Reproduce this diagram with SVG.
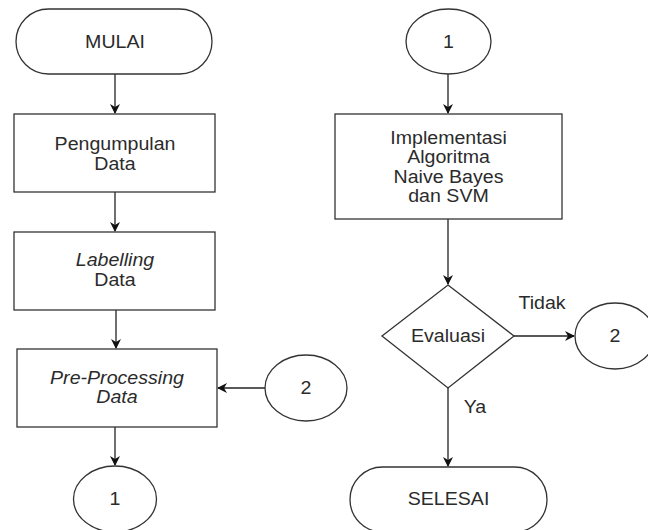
<svg xmlns="http://www.w3.org/2000/svg" width="648" height="530" viewBox="0 0 648 530">
<defs>
<style>
.s{fill:#fff;stroke:#333;stroke-width:1.3}
.t{font-family:"Liberation Sans",Arial,sans-serif;font-size:17.5px;fill:#2b2b2b;text-anchor:middle}
.i{font-style:italic}
.c{fill:none;stroke:#222;stroke-width:1.3}
</style>
<marker id="a" viewBox="0 0 10 10" refX="9" refY="5" markerWidth="10" markerHeight="10" markerUnits="userSpaceOnUse" orient="auto">
<path d="M0,0 L10,5 L0,10 L3,5 Z" fill="#111"/>
</marker>
</defs>
<rect width="648" height="530" fill="#fff"/>
<g id="connectors">
<path class="c" d="M115,74 V113" marker-end="url(#a)"/>
<path class="c" d="M115,192 V231" marker-end="url(#a)"/>
<path class="c" d="M116,310 V348" marker-end="url(#a)"/>
<path class="c" d="M265,388 H218" marker-end="url(#a)"/>
<path class="c" d="M115,427 V465" marker-end="url(#a)"/>
<path class="c" d="M448,74 V113" marker-end="url(#a)"/>
<path class="c" d="M448,219 V284" marker-end="url(#a)"/>
<path class="c" d="M514,336 H574" marker-end="url(#a)"/>
<path class="c" d="M448,388 V466" marker-end="url(#a)"/>
<text class="t" transform="translate(542,309) scale(1.12,1)">Tidak</text>
<text class="t" transform="translate(475,413) scale(1.12,1)">Ya</text>
</g>
<g id="mulai">
<rect class="s" x="16" y="9" width="196" height="65" rx="32.5"/>
<text class="t" transform="translate(115,48) scale(1.12,1)">MULAI</text>
</g>
<g id="pengumpulan">
<rect class="s" x="14" y="114" width="201" height="78"/>
<text class="t" transform="translate(115,150) scale(1.12,1)">Pengumpulan</text>
<text class="t" transform="translate(115,170) scale(1.12,1)">Data</text>
</g>
<g id="labelling">
<rect class="s" x="14" y="232" width="201" height="78"/>
<text class="t i" transform="translate(115,266) scale(1.12,1)">Labelling</text>
<text class="t" transform="translate(115,286) scale(1.12,1)">Data</text>
</g>
<g id="preprocessing">
<rect class="s" x="17" y="349" width="200" height="78"/>
<text class="t i" transform="translate(117,384) scale(1.12,1)">Pre-Processing</text>
<text class="t i" transform="translate(117,403) scale(1.12,1)">Data</text>
</g>
<g id="conn2left">
<ellipse class="s" cx="306" cy="388" rx="41" ry="33"/>
<text class="t" transform="translate(306,394) scale(1.12,1)">2</text>
</g>
<g id="conn1bottom">
<ellipse class="s" cx="115" cy="499" rx="41.5" ry="33"/>
<text class="t" transform="translate(115,505) scale(1.12,1)">1</text>
</g>
<g id="conn1top">
<ellipse class="s" cx="448.5" cy="41.5" rx="42.5" ry="32.5"/>
<text class="t" transform="translate(448.5,48) scale(1.12,1)">1</text>
</g>
<g id="implementasi">
<rect class="s" x="335" y="114" width="227" height="105"/>
<text class="t" transform="translate(448.5,143.5) scale(1.12,1)">Implementasi</text>
<text class="t" transform="translate(448.5,163) scale(1.12,1)">Algoritma</text>
<text class="t" transform="translate(448.5,182.5) scale(1.12,1)">Naive Bayes</text>
<text class="t" transform="translate(448.5,202) scale(1.12,1)">dan SVM</text>
</g>
<g id="evaluasi">
<path class="s" d="M448,285 L514,336 L448,388 L382,336 Z"/>
<text class="t" transform="translate(448,342) scale(1.12,1)">Evaluasi</text>
</g>
<g id="conn2right">
<ellipse class="s" cx="615" cy="336" rx="40" ry="33"/>
<text class="t" transform="translate(615,342) scale(1.12,1)">2</text>
</g>
<g id="selesai">
<rect class="s" x="350" y="467" width="197" height="65" rx="32.5"/>
<text class="t" transform="translate(448.5,505) scale(1.12,1)">SELESAI</text>
</g>
</svg>
